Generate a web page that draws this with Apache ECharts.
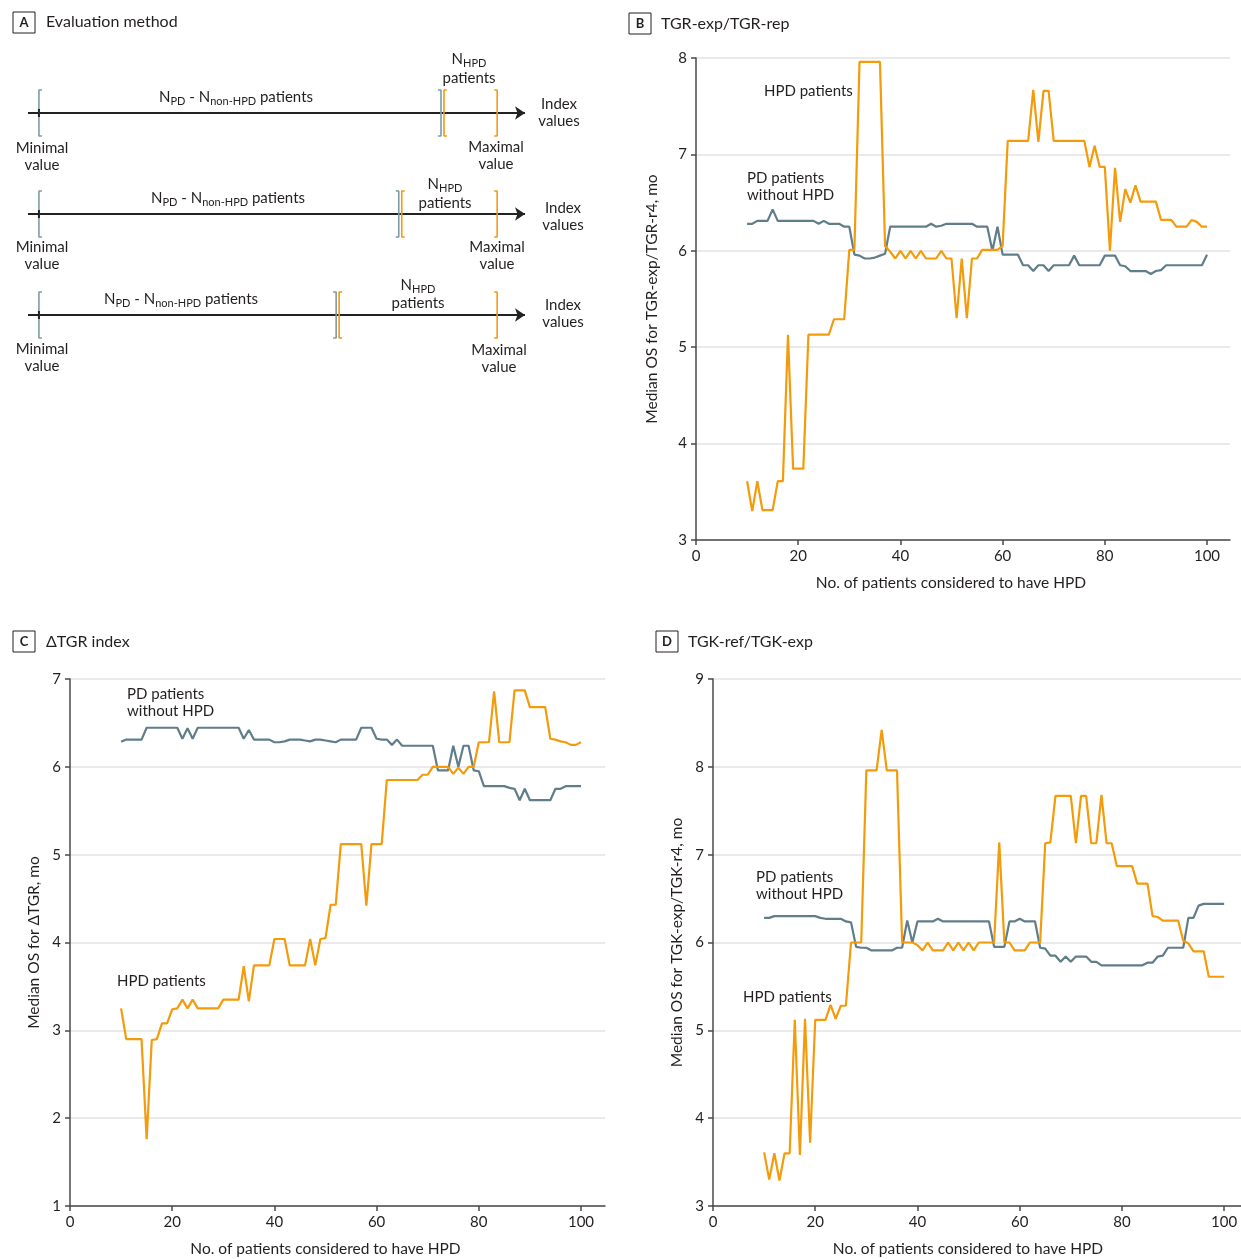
<!DOCTYPE html>
<html>
<head>
<meta charset="utf-8">
<script src="https://cdn.jsdelivr.net/npm/echarts@6/dist/echarts.min.js"></script>
<style>
html,body{margin:0;padding:0;background:#fff;}
#chart{width:1241px;height:1259px;}
</style>
</head>
<body>
<div id="chart"></div>
<script>
// ---------- data ----------
const patients = [10,11,12,13,14,15,16,17,18,19,20,21,22,23,24,25,26,27,28,29,30,31,32,33,34,35,36,37,38,39,40,41,42,43,44,45,46,47,48,49,50,51,52,53,54,55,56,57,58,59,60,61,62,63,64,65,66,67,68,69,70,71,72,73,74,75,76,77,78,79,80,81,82,83,84,85,86,87,88,89,90,91,92,93,94,95,96,97,98,99,100];

// Panel B: TGR-exp/TGR-rep
const hpdB = [3.61,3.30,3.61,3.31,3.31,3.31,3.61,3.61,5.13,3.74,
  3.74,3.74,5.13,5.13,5.13,5.13,5.13,5.29,5.29,5.29,
  6.01,6.01,7.96,7.96,7.96,7.96,7.96,6.05,5.99,5.92,
  6.00,5.92,6.00,5.92,6.00,5.92,5.92,5.92,6.00,5.92,
  5.92,5.30,5.92,5.30,5.92,5.92,6.01,6.01,6.01,6.01,
  6.05,7.14,7.14,7.14,7.14,7.14,7.67,7.13,7.66,7.66,
  7.14,7.14,7.14,7.14,7.14,7.14,7.14,6.87,7.09,6.87,
  6.87,6.00,6.86,6.30,6.64,6.50,6.68,6.51,6.51,6.51,
  6.51,6.32,6.32,6.32,6.25,6.25,6.25,6.32,6.30,6.25,
  6.25];
const nonHpdB = [6.28,6.28,6.31,6.31,6.31,6.43,6.31,6.31,6.31,6.31,
  6.31,6.31,6.31,6.31,6.28,6.31,6.28,6.28,6.28,6.25,
  6.25,5.96,5.95,5.92,5.92,5.93,5.95,5.97,6.25,6.25,
  6.25,6.25,6.25,6.25,6.25,6.25,6.28,6.25,6.26,6.28,
  6.28,6.28,6.28,6.28,6.28,6.25,6.25,6.25,6.00,6.25,
  5.96,5.96,5.96,5.96,5.85,5.85,5.79,5.85,5.85,5.79,
  5.85,5.85,5.85,5.85,5.95,5.85,5.85,5.85,5.85,5.85,
  5.95,5.95,5.95,5.85,5.84,5.79,5.79,5.79,5.79,5.76,
  5.79,5.80,5.85,5.85,5.85,5.85,5.85,5.85,5.85,5.85,
  5.96];

// Panel C: ΔTGR index
const hpdC = [3.25,2.90,2.90,2.90,2.90,1.76,2.89,2.90,3.08,3.08,
  3.24,3.25,3.35,3.25,3.35,3.25,3.25,3.25,3.25,3.25,
  3.35,3.35,3.35,3.35,3.73,3.33,3.74,3.74,3.74,3.74,
  4.04,4.04,4.04,3.74,3.74,3.74,3.74,4.04,3.74,4.04,
  4.05,4.43,4.43,5.12,5.12,5.12,5.12,5.12,4.42,5.12,
  5.12,5.12,5.85,5.85,5.85,5.85,5.85,5.85,5.85,5.91,
  5.91,6.00,6.00,6.00,6.00,5.92,5.99,5.92,6.00,6.00,
  6.28,6.28,6.28,6.86,6.28,6.28,6.28,6.87,6.87,6.87,
  6.68,6.68,6.68,6.68,6.32,6.31,6.29,6.28,6.25,6.25,
  6.28];
const nonHpdC = [6.285,6.31,6.31,6.31,6.31,6.445,6.445,6.445,6.445,6.445,
  6.445,6.445,6.32,6.44,6.32,6.445,6.445,6.445,6.445,6.445,
  6.445,6.445,6.445,6.445,6.32,6.42,6.31,6.31,6.31,6.31,
  6.28,6.28,6.29,6.31,6.31,6.31,6.30,6.29,6.31,6.31,
  6.30,6.29,6.28,6.31,6.31,6.31,6.31,6.445,6.445,6.445,
  6.32,6.31,6.31,6.25,6.31,6.24,6.24,6.24,6.24,6.24,
  6.24,6.24,5.96,5.96,5.96,6.24,6.00,6.24,6.24,5.96,
  5.95,5.78,5.78,5.78,5.78,5.78,5.76,5.75,5.62,5.75,
  5.62,5.62,5.62,5.62,5.62,5.75,5.75,5.78,5.78,5.78,
  5.78];

// Panel D: TGK-ref/TGK-exp
const hpdD = [3.61,3.30,3.60,3.29,3.60,3.60,5.12,3.58,5.13,3.72,
  5.12,5.12,5.12,5.29,5.13,5.28,5.28,6.00,6.00,6.00,
  7.96,7.96,7.96,8.42,7.96,7.96,7.96,6.00,6.00,6.00,
  5.97,5.91,6.00,5.91,5.91,5.91,6.00,5.91,6.00,5.91,
  6.00,5.91,6.00,6.00,6.00,6.00,7.14,6.00,6.00,5.91,
  5.91,5.91,6.00,6.00,6.00,7.13,7.14,7.67,7.67,7.67,
  7.67,7.13,7.67,7.67,7.13,7.13,7.68,7.13,7.13,6.87,
  6.87,6.87,6.87,6.67,6.67,6.67,6.30,6.29,6.25,6.25,
  6.25,6.25,6.02,5.99,5.90,5.90,5.90,5.61,5.61,5.61,
  5.61];
const nonHpdD = [6.28,6.28,6.30,6.30,6.30,6.30,6.30,6.30,6.30,6.30,
  6.30,6.28,6.27,6.27,6.27,6.27,6.24,6.23,5.95,5.94,
  5.94,5.91,5.91,5.91,5.91,5.91,5.94,5.94,6.25,6.00,
  6.24,6.24,6.24,6.24,6.27,6.24,6.24,6.24,6.24,6.24,
  6.24,6.24,6.24,6.24,6.24,5.95,5.95,5.95,6.24,6.24,
  6.27,6.24,6.24,6.24,5.94,5.93,5.85,5.85,5.78,5.84,
  5.78,5.84,5.84,5.84,5.78,5.78,5.74,5.74,5.74,5.74,
  5.74,5.74,5.74,5.74,5.74,5.77,5.77,5.84,5.85,5.94,
  5.94,5.94,5.94,6.28,6.28,6.42,6.44,6.44,6.44,6.44,
  6.44];

const xTicks = [0,20,40,60,80,100];
const yTicksB = [3,4,5,6,7,8];
const yTicksC = [1,2,3,4,5,6,7];
const yTicksD = [3,4,5,6,7,8,9];

// Panel A schematic: 3 rows, boundary of the N_HPD window on an index scale 0-100
const diagramRows = [0.5, 1.5, 2.5];
const diagramSplits = [83.4, 74.9, 62.3];
const diagramMin = 2.2;
const diagramMax = 94.4;

// ---------- styles ----------
const ORANGE = '#F49B0B';
const GRAY = '#5F7E8A';
const BRACKET_GRAY = '#7D9BA7';
const TEXT = '#231F20';
const FONT = 'Lato, "Noto Sans", sans-serif';

function zip(ys){ return patients.map((x,i)=>[x, ys[i]]); }

function xAxisFor(grid, max, padRight){
  return {
    type:'value', gridIndex:grid, min:0, max:max,
    name:'No. of patients considered to have HPD', nameLocation:'middle', nameGap:35,
    nameTextStyle:{fontSize:15.5, color:TEXT, fontFamily:FONT, padding:[0,padRight,0,0]},
    axisLine:{show:true, lineStyle:{color:'#4a4a4a', width:1.5}},
    axisTick:{show:true, customValues:xTicks, length:5, lineStyle:{color:'#4a4a4a', width:1.5}},
    axisLabel:{customValues:xTicks, fontSize:15, color:TEXT, fontFamily:FONT, margin:9},
    splitLine:{show:false}
  };
}
function yAxisFor(grid, min, max, ticks, name, gap){
  return {
    type:'value', gridIndex:grid, min:min, max:max, interval:1,
    name:name, nameLocation:'middle', nameGap:gap,
    nameTextStyle:{fontSize:15.5, color:TEXT, fontFamily:FONT},
    axisLine:{show:true, lineStyle:{color:'#4a4a4a', width:1.5}},
    axisTick:{show:true, customValues:ticks, length:5, lineStyle:{color:'#4a4a4a', width:1.5}},
    axisLabel:{customValues:ticks, fontSize:15, color:TEXT, fontFamily:FONT, margin:9},
    splitLine:{show:true, lineStyle:{color:'#e3e3e3', width:1.5}}
  };
}
function lineSeries(grid, ys, color){
  return {type:'line', xAxisIndex:grid, yAxisIndex:grid, data:zip(ys), showSymbol:false, symbol:'none',
    lineStyle:{color:color, width:2.2}, itemStyle:{color:color}, silent:true, z:color===ORANGE?3:2};
}

// Panel A series
const ARM = 0.6, HALF = 0.228;
function bracket(x, y, dir, color){
  return {type:'line', xAxisIndex:0, yAxisIndex:0, symbol:'none', silent:true,
    data:[[x+dir*ARM, y-HALF],[x, y-HALF],[x, y+HALF],[x+dir*ARM, y+HALF]],
    lineStyle:{color:color, width:1.6}, z:3};
}
const diagramSeries = [];
diagramRows.forEach((row, i)=>{
  diagramSeries.push({
    type:'line', xAxisIndex:0, yAxisIndex:0, data:[[0,row],[100,row]], silent:true, symbol:'none',
    lineStyle:{color:'#222', width:2}, z:2,
    markLine:{silent:true, symbol:['none','arrow'], symbolSize:10, animation:false,
      label:{show:false}, lineStyle:{color:'#222', width:2, type:'solid'},
      data:[[{coord:[96,row]},{coord:[100,row]}]]}
  });
  diagramSeries.push({type:'line', xAxisIndex:0, yAxisIndex:0, symbol:'none', silent:true,
    data:[[diagramMin,row-0.04],[diagramMin,row+0.04]], lineStyle:{color:'#222', width:2}, z:4});
  diagramSeries.push(bracket(diagramMin, row, 1, BRACKET_GRAY));
  diagramSeries.push(bracket(diagramSplits[i]-0.3, row, -1, BRACKET_GRAY));
  diagramSeries.push(bracket(diagramSplits[i]+0.3, row, 1, ORANGE));
  diagramSeries.push(bracket(diagramMax, row, -1, ORANGE));
});

// ---------- graphic text ----------
function txt(x, y, text, align, size){
  return {type:'text', x:x, y:y, silent:true, z:10,
    style:{text:text, fontSize:size||15, fontFamily:FONT, fill:TEXT, align:align||'left', verticalAlign:'middle', lineHeight:17}};
}
const RICH = {
  n:{fontSize:15, fontFamily:FONT, color:TEXT, lineHeight:19},
  s:{fontSize:11, fontFamily:FONT, color:TEXT, lineHeight:19, verticalAlign:'bottom'}
};
function richTxt(x, y, text, align){
  return {type:'text', x:x, y:y, silent:true, z:10,
    style:{text:text, fontFamily:FONT, fill:TEXT, align:align, verticalAlign:'middle', rich:RICH}};
}
function box(x, y, letter){
  return [
    {type:'rect', shape:{x:x, y:y, width:22, height:21}, style:{fill:'#fff', stroke:'#231F20', lineWidth:1}, silent:true, z:10},
    {type:'text', x:x+11, y:y+11, silent:true, z:11, style:{text:letter, fontSize:13, fontWeight:'bold', fontFamily:FONT, fill:TEXT, align:'center', verticalAlign:'middle'}}
  ];
}
const NPD = '{n|N}{s|PD}{n| - N}{s|non-HPD}{n| patients}';
const NHPD = '{n|N}{s|HPD}';
const graphics = [].concat(
  box(13,12,'A'), [txt(46,22,'Evaluation method','left',16)],
  box(629,13,'B'), [txt(661,24,'TGR-exp/TGR-rep','left',16)],
  box(13,631,'C'), [txt(46,642,'ΔTGR index','left',16)],
  box(656,631,'D'), [txt(688,642,'TGK-ref/TGK-exp','left',16)],
  // panel A labels
  [richTxt(236,97.5,NPD,'center'), richTxt(228,198.5,NPD,'center'), richTxt(181,299.5,NPD,'center')],
  [richTxt(469,59,NHPD,'center'), txt(469,78,'patients','center'),
   richTxt(445,184,NHPD,'center'), txt(445,203,'patients','center'),
   richTxt(418,285,NHPD,'center'), txt(418,303,'patients','center')],
  [txt(559,113,'Index\nvalues','center'), txt(563,216.5,'Index\nvalues','center'), txt(563,313.5,'Index\nvalues','center')],
  [txt(42,157,'Minimal\nvalue','center'), txt(42,256,'Minimal\nvalue','center'), txt(42,358,'Minimal\nvalue','center')],
  [txt(496,156,'Maximal\nvalue','center'), txt(497,256,'Maximal\nvalue','center'), txt(499,359,'Maximal\nvalue','center')],
  // series annotations
  [txt(764,91,'HPD patients'), txt(747,187,'PD patients\nwithout HPD')],
  [txt(127,703,'PD patients\nwithout HPD'), txt(117,981,'HPD patients')],
  [txt(756,886,'PD patients\nwithout HPD'), txt(743,997,'HPD patients')]
);

const option = {
  animation:false,
  backgroundColor:'#fff',
  textStyle:{fontFamily:FONT},
  grid:[
    {left:28, top:62.5, width:497, height:303},
    {left:696, top:58, width:534, height:482},
    {left:70, top:679, width:535, height:527},
    {left:713, top:679, width:528, height:527}
  ],
  xAxis:[
    {type:'value', gridIndex:0, min:0, max:100, show:false},
    xAxisFor(1, 104.5, 24),
    xAxisFor(2, 104.7, 24),
    xAxisFor(3, 103.3, 18)
  ],
  yAxis:[
    {type:'value', gridIndex:0, min:0, max:3, inverse:true, show:false},
    yAxisFor(1, 3, 8, yTicksB, 'Median OS for TGR-exp/TGR-r4, mo', 36),
    yAxisFor(2, 1, 7, yTicksC, 'Median OS for ΔTGR, mo', 28),
    yAxisFor(3, 3, 9, yTicksD, 'Median OS for TGK-exp/TGK-r4, mo', 28)
  ],
  series: diagramSeries.concat([
    lineSeries(1, nonHpdB, GRAY), lineSeries(1, hpdB, ORANGE),
    lineSeries(2, nonHpdC, GRAY), lineSeries(2, hpdC, ORANGE),
    lineSeries(3, nonHpdD, GRAY), lineSeries(3, hpdD, ORANGE)
  ]),
  graphic: graphics
};
const chart = echarts.init(document.getElementById('chart'), null, {renderer:'canvas'});
chart.setOption(option);
</script>
</body>
</html>
